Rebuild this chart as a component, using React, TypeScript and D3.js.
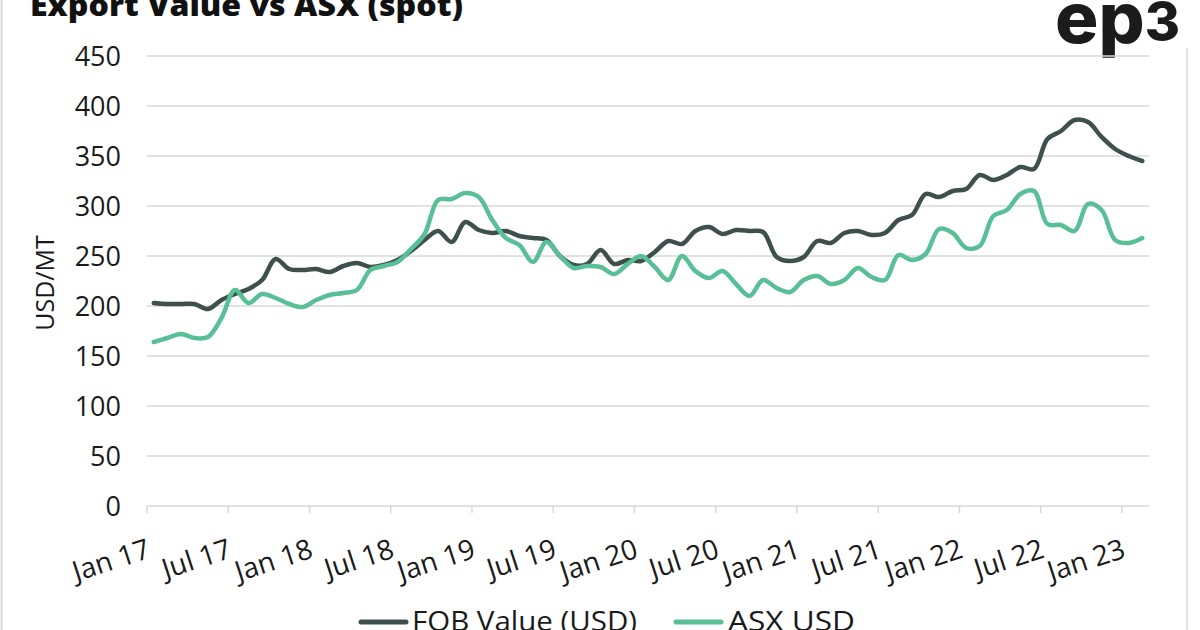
import React from "react";
import * as d3 from "d3";

const W = 1200;
const H = 630;

const tickLabels = ["Jan 17","Jul 17","Jan 18","Jul 18","Jan 19","Jul 19","Jan 20","Jul 20","Jan 21","Jul 21","Jan 22","Jul 22","Jan 23"];
const yTicks = [0, 50, 100, 150, 200, 250, 300, 350, 400, 450];

// monthly values Jan 2017 .. Feb 2023 (74 months)
const fobValue = [
  203, 202, 202, 202, 197, 206, 212, 217, 226, 247, 237, 236,
  237, 234, 240, 243, 239, 241, 246, 255, 266, 275, 264, 284,
  276, 273, 275, 270, 268, 266, 250, 241, 242, 256, 242, 246,
  245, 254, 265, 262, 275, 279, 272, 276, 275, 274, 249, 245,
  249, 265, 263, 273, 275, 271, 273, 286, 291, 312, 309, 315,
  317, 331, 326, 331, 339, 337, 367, 375, 386, 384, 369, 357,
  350, 345,
];
const asxUsd = [
  164, 168, 172, 168, 169, 188, 216, 203, 212, 208, 202, 199,
  206, 211, 213, 216, 236, 240, 244, 257, 272, 306, 307, 313,
  309, 286, 268, 261, 244, 264, 250, 238, 240, 239, 232, 242,
  250, 239, 226, 250, 235, 228, 235, 222, 210, 226, 218, 214,
  226, 230, 222, 226, 238, 229, 226, 251, 246, 252, 277, 273,
  258, 260, 290, 296, 312, 315, 282, 281, 275, 302, 296, 266,
  263, 268,
];

const seriesNames = ["FOB Value (USD)", "ASX USD"];
const seriesColors = ["#3d504d", "#59bf97"];

const FONT = "'Open Sans', 'DejaVu Sans', sans-serif";

export default function App() {
  const left = 147;
  const right = 1149;
  const top = 56;
  const bottom = 506;
  const nMonths = fobValue.length;

  const x = d3.scaleLinear().domain([0, nMonths]).range([left, right]);
  const y = d3.scaleLinear().domain([0, 450]).range([bottom, top]);

  const line = d3
    .line<number>()
    .x((_, i) => x(i + 0.5))
    .y((d) => y(d))
    .curve(d3.curveCatmullRom.alpha(0.5));

  const series = [fobValue, asxUsd];

  return (
    <svg
      width={W}
      height={H}
      viewBox={`0 0 ${W} ${H}`}
      style={{ position: "absolute", left: 0, top: 0, background: "#fff" }}
    >
      <rect x={0} y={0} width={W} height={H} fill="#fff" />
      {/* frame edges */}
      <line x1={1.5} x2={1.5} y1={0} y2={H} stroke="#d9d9d9" strokeWidth={2} />
      <line x1={1187} x2={1187} y1={48} y2={H} stroke="#e3e3e3" strokeWidth={2} />

      {/* title */}
      <text x={30} y={16} fontFamily={FONT} fontWeight={800} fontSize={30} fill="#111" textLength={433} lengthAdjust="spacingAndGlyphs">
        Export Value vs ASX (spot)
      </text>

      {/* logo */}
      <text x={1055} y={43} fontFamily="'Inter', 'DejaVu Sans', sans-serif" fontWeight={800} fontSize={70} fill="#1b1b1b" textLength={125} lengthAdjust="spacingAndGlyphs">
        ep<tspan fontSize={52} dy={-3}>3</tspan>
      </text>

      {/* gridlines */}
      {yTicks.map((t) => (
        <line key={"g" + t} x1={left} x2={right} y1={y(t)} y2={y(t)} stroke="#d9d9d9" strokeWidth={1.5} />
      ))}
      {/* y tick labels */}
      {yTicks.map((t) => (
        <text key={"yl" + t} x={121} y={y(t)} dy="0.36em" textAnchor="end" fontFamily={FONT} fontSize={27} fill="#1a1a1a">
          {t}
        </text>
      ))}
      {/* y axis title */}
      <text
        transform={`translate(54, ${283}) rotate(-90)`}
        textAnchor="middle"
        fontFamily={FONT}
        fontSize={25}
        fill="#1a1a1a"
      >
        USD/MT
      </text>

      {/* x ticks */}
      {tickLabels.map((lab, k) => {
        const tx = x(k * 6);
        return (
          <g key={"xt" + lab}>
            <line x1={tx} x2={tx} y1={bottom} y2={bottom + 7} stroke="#d9d9d9" strokeWidth={1.5} />
            <text
              transform={`translate(${tx + 5}, ${557}) rotate(-18)`}
              textAnchor="end"
              fontFamily={FONT}
              fontSize={28}
              fill="#1a1a1a"
            >
              {lab}
            </text>
          </g>
        );
      })}

      {/* lines */}
      {series.map((s, k) => (
        <path key={"s" + k} d={line(s) || ""} fill="none" stroke={seriesColors[k]} strokeWidth={4.5} strokeLinejoin="round" strokeLinecap="round" />
      ))}

      {/* legend */}
      <g>
        <line x1={361} x2={406} y1={622} y2={622} stroke={seriesColors[0]} strokeWidth={5} strokeLinecap="round" />
        <text x={412} y={631} fontFamily={FONT} fontSize={28} fill="#1a1a1a" textLength={225} lengthAdjust="spacingAndGlyphs">
          {seriesNames[0]}
        </text>
        <line x1={676} x2={721} y1={622} y2={622} stroke={seriesColors[1]} strokeWidth={5} strokeLinecap="round" />
        <text x={728} y={631} fontFamily={FONT} fontSize={28} fill="#1a1a1a" textLength={127} lengthAdjust="spacingAndGlyphs">
          {seriesNames[1]}
        </text>
      </g>
    </svg>
  );
}
